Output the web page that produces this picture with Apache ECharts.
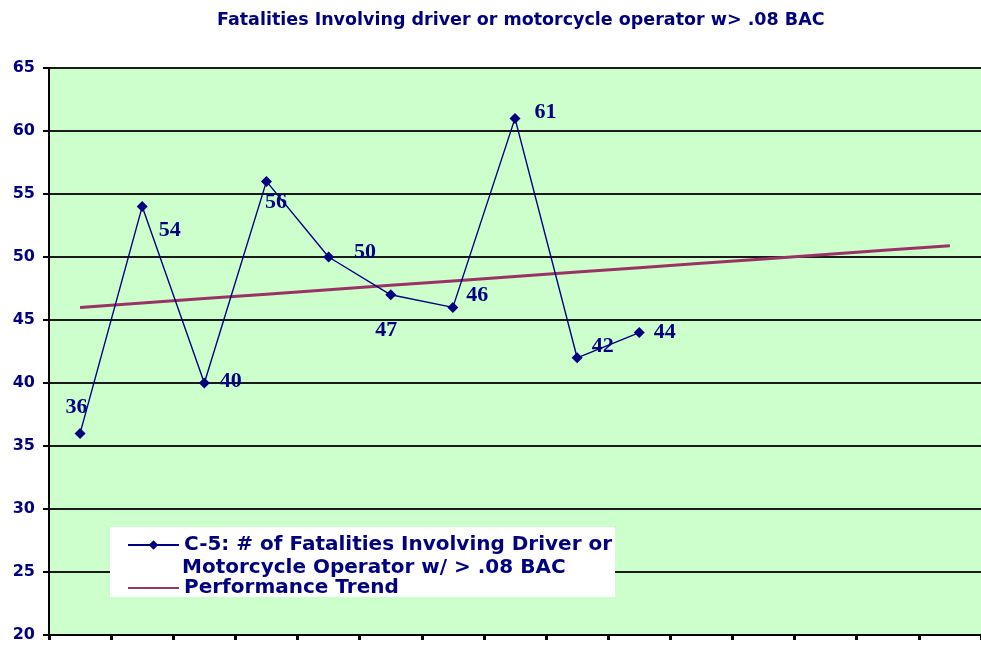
<!DOCTYPE html>
<html>
<head>
<meta charset="utf-8">
<script src="https://cdn.jsdelivr.net/npm/echarts@6/dist/echarts.min.js"></script>
<style>html,body{margin:0;padding:0;background:#fff;}#c{width:981px;height:646px;}</style>
</head>
<body>
<div id="c"></div>
<script>
// ---- data ----
const categories = ['1','2','3','4','5','6','7','8','9','10','11','12','13','14','15'];
const fatalities = [36, 54, 40, 56, 50, 47, 46, 61, 42, 44];
const trend = [46.0, 46.35, 46.7, 47.05, 47.4, 47.75, 48.1, 48.45, 48.8, 49.15, 49.5, 49.85, 50.2, 50.55, 50.9];
const yTicks = [20, 25, 30, 35, 40, 45, 50, 55, 60, 65];
const titleText = 'Fatalities Involving driver or motorcycle operator w> .08 BAC';
const seriesName = 'C-5: # of Fatalities Involving Driver or';
const seriesName2 = 'Motorcycle Operator w/ > .08 BAC';
const trendName = 'Performance Trend';
// label offsets (styling): dx, dy of label centre from point
const labelOffsets = [[-3,-26],[28,24],[27,-1],[10,21],[37,-4],[-4,36],[25,-12],[31,-6],[26,-11],[26,0]];

const navy = '#000080';
const legendFont = 'DejaVu Sans, sans-serif';
const chart = echarts.init(document.getElementById('c'));
chart.setOption({
  backgroundColor: '#ffffff',
  animation: false,
  title: {
    text: titleText,
    left: 212, top: 6,
    textStyle: { color: navy, fontSize: 17.5, fontWeight: 900, fontFamily: 'DejaVu Sans, sans-serif' }
  },
  grid: { left: 49, right: 0, top: 68, bottom: 11, show: true, backgroundColor: '#CCFFCC', borderWidth: 0 },
  xAxis: {
    type: 'category', data: categories, boundaryGap: true,
    axisLine: { lineStyle: { color: '#000', width: 2 } },
    axisTick: { show: true, inside: false, length: 5, lineStyle: { color: '#000', width: 3 } },
    axisLabel: { show: false }, splitLine: { show: false }
  },
  yAxis: {
    type: 'value', min: yTicks[0], max: yTicks[yTicks.length-1], interval: 5,
    axisLine: { show: true, lineStyle: { color: '#000', width: 2 } },
    axisTick: { show: true, length: 6, lineStyle: { color: '#000', width: 2 } },
    axisLabel: { margin: 14, color: navy, fontSize: 16, fontWeight: 'bold', fontFamily: 'DejaVu Sans, sans-serif' },
    splitLine: { show: true, lineStyle: { color: '#1a1a1a', width: 2 } }
  },
  legend: {
    orient: 'vertical', left: 127, top: 535, z: 20,
    padding: 0, itemGap: 23, itemWidth: 51, itemHeight: 12,
    backgroundColor: 'transparent',
    textStyle: { color: navy, fontSize: 20, fontWeight: 'bold', fontFamily: legendFont, lineHeight: 20 },
    data: [
      { name: seriesName },
      { name: trendName, itemStyle: { color: 'rgba(0,0,0,0)', borderWidth: 0 } }
    ]
  },
  graphic: [
    { type: 'rect', z: 10, shape: { x: 110, y: 527, width: 505, height: 70 }, style: { fill: '#ffffff' } },
    { type: 'text', z: 21, x: 182, y: 568, style: { text: seriesName2, fill: navy, font: 'bold 20px "DejaVu Sans", sans-serif', verticalAlign: 'middle', align: 'left' } }
  ],
  series: [
    {
      name: trendName, type: 'line', data: trend, symbol: 'none', z: 3,
      lineStyle: { color: '#993366', width: 3 }, itemStyle: { color: '#993366' }
    },
    {
      name: seriesName, type: 'line', z: 4,
      data: fatalities.map((v, i) => ({
        value: v,
        label: { show: true, position: [5 + labelOffsets[i][0], 5 + labelOffsets[i][1]], align: 'center', verticalAlign: 'middle' }
      })),
      symbol: 'diamond', symbolSize: 11,
      lineStyle: { color: navy, width: 1.4 }, itemStyle: { color: navy },
      label: { show: true, color: navy, fontSize: 22, fontWeight: 'bold', fontFamily: 'Liberation Serif, Times New Roman, serif' }
    }
  ]
});
</script>
</body>
</html>
